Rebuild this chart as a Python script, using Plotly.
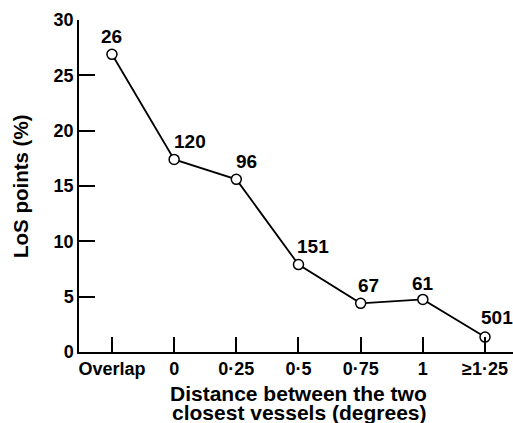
import plotly.graph_objects as go

categories = ["Overlap", "0", "0·25", "0·5", "0·75", "1", "≥1·25"]
los_points = [26.9, 17.4, 15.6, 7.9, 4.4, 4.75, 1.35]
counts = ["26", "120", "96", "151", "67", "61", "501"]
y_ticks = [0, 5, 10, 15, 20, 25, 30]
x_title_lines = ["Distance between the two", "closest vessels (degrees)"]
y_title = "LoS points (%)"

FONT = "Liberation Sans"
label_xshift = [0, 16, 10, 15, 8, 0, 12]
label_yshift = [5, 5, 5, 6, 5, 3, 7]

W, H = 513, 423
ML, MR, MT, MB = 79, 0, 20, 71
PH = H - MT - MB
PW = W - ML - MR

x_idx = list(range(len(categories)))

fig = go.Figure()
fig.add_trace(go.Scatter(
    x=x_idx, y=los_points, mode="lines+markers",
    line=dict(color="black", width=1.8),
    marker=dict(symbol="circle", size=10, color="white",
                line=dict(color="black", width=1.5)),
    cliponaxis=False, showlegend=False,
))

for i, (v, c) in enumerate(zip(los_points, counts)):
    fig.add_annotation(
        x=x_idx[i], y=v, text="<b>" + c + "</b>", showarrow=False,
        xanchor="center", yanchor="bottom",
        xshift=label_xshift[i], yshift=label_yshift[i],
        font=dict(family=FONT, size=19, color="black"),
    )

# axis titles
title_tops = [380, 399]
title_cx = [298, 299]
for line, top, cx in zip(x_title_lines, title_tops, title_cx):
    fig.add_annotation(
        xref="paper", yref="paper", x=(cx - ML) / PW, y=-(top - (H - MB)) / PH,
        xanchor="center", yanchor="top", showarrow=False,
        text="<b>" + line + "</b>",
        font=dict(family=FONT, size=21, color="black"),
    )
fig.add_annotation(
    xref="paper", yref="paper", x=-(ML - 20) / PW, y=((H - MB) - 187) / PH,
    xanchor="center", yanchor="middle", textangle=-90, showarrow=False,
    text="<b>" + y_title + "</b>",
    font=dict(family=FONT, size=20.5, color="black"),
)

fig.update_layout(
    width=W, height=H,
    margin=dict(l=ML, r=MR, t=MT, b=MB, autoexpand=False),
    paper_bgcolor="white", plot_bgcolor="white",
    font=dict(family=FONT, size=18, color="black"),
    xaxis=dict(
        range=[-0.53, 6.45], tickvals=x_idx,
        ticktext=["<b>" + c + "</b>" for c in categories],
        showline=True, linecolor="black", linewidth=1.5,
        ticks="inside", ticklen=15, tickwidth=1.5, tickcolor="black",
        showgrid=False, zeroline=False, automargin=False,
    ),
    yaxis=dict(
        range=[0, 30], tickvals=y_ticks,
        ticktext=["<b>" + str(t) + "</b>" for t in y_ticks],
        showline=True, linecolor="black", linewidth=1.5,
        ticks="inside", ticklen=16, tickwidth=1.5, tickcolor="black",
        showgrid=False, zeroline=False, automargin=False,
    ),
)

fig.write_html("out.html")
